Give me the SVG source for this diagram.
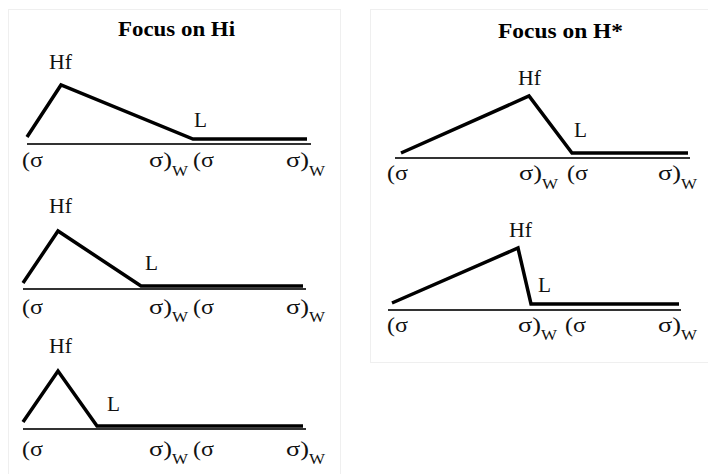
<svg xmlns="http://www.w3.org/2000/svg" width="708" height="474" viewBox="0 0 708 474">
<style>
.frame{fill:#fff;stroke:#efefef;stroke-width:1}
.title{font-family:"Liberation Serif",serif;font-weight:bold;font-size:20px;fill:#000}
.lab{font-family:"Liberation Serif",serif;font-size:20px;fill:#111}
.sub{font-family:"Liberation Serif",serif;font-size:15px;fill:#111}
.contour{fill:none;stroke:#000;stroke-width:3.5;stroke-linejoin:miter;stroke-linecap:butt}
.base{fill:none;stroke:#333;stroke-width:2}
</style>
<rect x="0" y="0" width="708" height="474" fill="#fff"/>
<rect class="frame" x="8.5" y="9.5" width="332" height="470"/>
<rect class="frame" x="370.5" y="9.5" width="340" height="353"/>
<text class="title" x="118" y="36" textLength="117" lengthAdjust="spacingAndGlyphs">Focus on Hi</text>
<text class="title" x="498" y="38" textLength="125" lengthAdjust="spacingAndGlyphs">Focus on H*</text>

<g id="connectors">
<line class="base" x1="27" y1="144" x2="311" y2="144"/>
<line class="base" x1="23" y1="289" x2="306" y2="289"/>
<line class="base" x1="23" y1="429" x2="306" y2="429"/>
<line class="base" x1="395" y1="158" x2="690" y2="158"/>
<line class="base" x1="388" y1="310" x2="681" y2="310"/>
<polyline class="contour" points="27,137 61,85 193,139 307,139"/>
<polyline class="contour" points="23,283 58,231 141,286 303,286"/>
<polyline class="contour" points="23,422 58,371 97,426 303,426"/>
<polyline class="contour" points="401,153 529,96 572,153 688,153"/>
<polyline class="contour" points="392,303 518,248 531,304 679,304"/>
</g>

<g id="hi-1">
<text class="lab" x="49" y="69" textLength="23" lengthAdjust="spacingAndGlyphs">Hf</text>
<text class="lab" x="194" y="127" textLength="13" lengthAdjust="spacingAndGlyphs">L</text>
<text class="lab" x="22" y="167" textLength="21" lengthAdjust="spacingAndGlyphs">(σ</text>
<text class="lab" x="149" y="167" textLength="23" lengthAdjust="spacingAndGlyphs">σ)</text>
<text class="sub" x="172" y="176" textLength="16" lengthAdjust="spacingAndGlyphs">W</text>
<text class="lab" x="193" y="167" textLength="21" lengthAdjust="spacingAndGlyphs">(σ</text>
<text class="lab" x="286" y="167" textLength="23" lengthAdjust="spacingAndGlyphs">σ)</text>
<text class="sub" x="309" y="176" textLength="16" lengthAdjust="spacingAndGlyphs">W</text>
</g>

<g id="hi-2">
<text class="lab" x="49" y="213" textLength="23" lengthAdjust="spacingAndGlyphs">Hf</text>
<text class="lab" x="145" y="270" textLength="13" lengthAdjust="spacingAndGlyphs">L</text>
<text class="lab" x="22" y="314" textLength="21" lengthAdjust="spacingAndGlyphs">(σ</text>
<text class="lab" x="149" y="314" textLength="23" lengthAdjust="spacingAndGlyphs">σ)</text>
<text class="sub" x="172" y="322" textLength="16" lengthAdjust="spacingAndGlyphs">W</text>
<text class="lab" x="193" y="314" textLength="21" lengthAdjust="spacingAndGlyphs">(σ</text>
<text class="lab" x="286" y="314" textLength="23" lengthAdjust="spacingAndGlyphs">σ)</text>
<text class="sub" x="309" y="322" textLength="16" lengthAdjust="spacingAndGlyphs">W</text>
</g>

<g id="hi-3">
<text class="lab" x="49" y="353" textLength="23" lengthAdjust="spacingAndGlyphs">Hf</text>
<text class="lab" x="107" y="411" textLength="13" lengthAdjust="spacingAndGlyphs">L</text>
<text class="lab" x="22" y="456" textLength="21" lengthAdjust="spacingAndGlyphs">(σ</text>
<text class="lab" x="149" y="456" textLength="23" lengthAdjust="spacingAndGlyphs">σ)</text>
<text class="sub" x="172" y="464" textLength="16" lengthAdjust="spacingAndGlyphs">W</text>
<text class="lab" x="193" y="456" textLength="21" lengthAdjust="spacingAndGlyphs">(σ</text>
<text class="lab" x="286" y="456" textLength="23" lengthAdjust="spacingAndGlyphs">σ)</text>
<text class="sub" x="309" y="464" textLength="16" lengthAdjust="spacingAndGlyphs">W</text>
</g>

<g id="hstar-1">
<text class="lab" x="518" y="85" textLength="23" lengthAdjust="spacingAndGlyphs">Hf</text>
<text class="lab" x="574" y="137" textLength="13" lengthAdjust="spacingAndGlyphs">L</text>
<text class="lab" x="387" y="180" textLength="21" lengthAdjust="spacingAndGlyphs">(σ</text>
<text class="lab" x="519" y="180" textLength="23" lengthAdjust="spacingAndGlyphs">σ)</text>
<text class="sub" x="542" y="189" textLength="16" lengthAdjust="spacingAndGlyphs">W</text>
<text class="lab" x="567" y="180" textLength="21" lengthAdjust="spacingAndGlyphs">(σ</text>
<text class="lab" x="658" y="180" textLength="23" lengthAdjust="spacingAndGlyphs">σ)</text>
<text class="sub" x="681" y="189" textLength="16" lengthAdjust="spacingAndGlyphs">W</text>
</g>

<g id="hstar-2">
<text class="lab" x="509" y="237" textLength="23" lengthAdjust="spacingAndGlyphs">Hf</text>
<text class="lab" x="538" y="292" textLength="13" lengthAdjust="spacingAndGlyphs">L</text>
<text class="lab" x="387" y="332" textLength="21" lengthAdjust="spacingAndGlyphs">(σ</text>
<text class="lab" x="518" y="332" textLength="23" lengthAdjust="spacingAndGlyphs">σ)</text>
<text class="sub" x="541" y="340" textLength="16" lengthAdjust="spacingAndGlyphs">W</text>
<text class="lab" x="565" y="332" textLength="21" lengthAdjust="spacingAndGlyphs">(σ</text>
<text class="lab" x="658" y="332" textLength="23" lengthAdjust="spacingAndGlyphs">σ)</text>
<text class="sub" x="681" y="340" textLength="16" lengthAdjust="spacingAndGlyphs">W</text>
</g>
</svg>
